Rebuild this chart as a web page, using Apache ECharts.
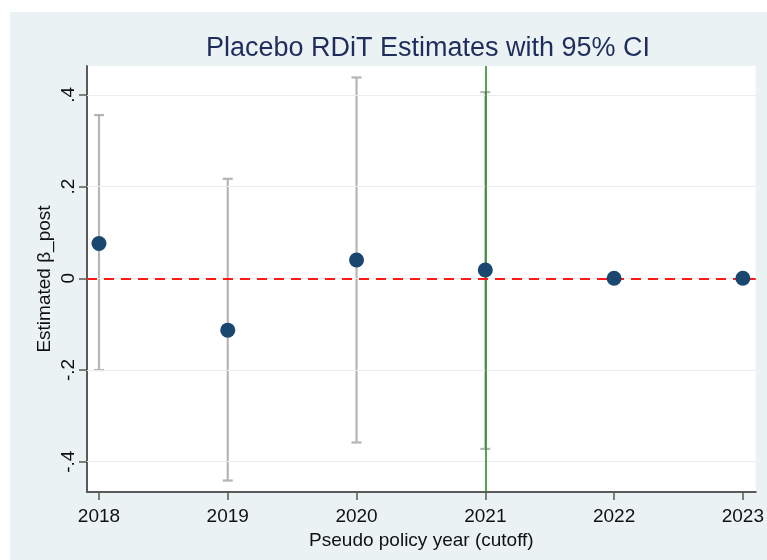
<!DOCTYPE html>
<html>
<head>
<meta charset="utf-8">
<title>Placebo RDiT Estimates</title>
<script src="https://cdn.jsdelivr.net/npm/echarts@6/dist/echarts.min.js"></script>
<style>
  html, body { margin: 0; padding: 0; background: #ffffff; }
  #chart { width: 767px; height: 560px; }
</style>
</head>
<body>
<div id="chart"></div>
<script>
// Pseudo cutoff years and the placebo estimates with their 95% intervals
const years = [2018, 2019, 2020, 2021, 2022, 2023];
const estimates = [0.076, -0.113, 0.040, 0.018, 0.0, 0.0];
const ciLower = [-0.200, -0.441, -0.358, -0.372, null, null];
const ciUpper = [0.356, 0.217, 0.438, 0.406, null, null];
const yTicks = [-0.4, -0.2, 0, 0.2, 0.4];
const actualPolicyYear = 2021;

const FONT = 'Liberation Sans, Arial, sans-serif';

function fmtTick(v) {
  if (Math.abs(v) < 1e-9) return '0';
  return String(Math.round(v * 10) / 10).replace(/^(-?)0\./, '$1.');
}

const points = years.map((y, i) => [y, estimates[i]]);
const bars = years
  .map((y, i) => [y, ciLower[i], ciUpper[i]])
  .filter(d => d[1] !== null && d[2] !== null);

const chart = echarts.init(document.getElementById('chart'), null, { renderer: 'canvas' });

chart.setOption({
  animation: false,
  backgroundColor: '#ffffff',
  graphic: [{
    type: 'rect',
    left: 10, top: 12,
    shape: { width: 757, height: 548 },
    style: { fill: '#eaf2f3' },
    z: -10, silent: true
  }],
  title: {
    text: 'Placebo RDiT Estimates with 95% CI',
    left: 423, top: 30, textAlign: 'center',
    textStyle: { fontFamily: FONT, fontSize: 27, fontWeight: 'normal', color: '#1f2d5c' }
  },
  grid: {
    left: 87, top: 66, right: 11, bottom: 68,
    show: true, backgroundColor: '#ffffff', borderWidth: 0
  },
  xAxis: {
    type: 'value',
    min: 2017.907, max: 2023.10,
    name: 'Pseudo policy year (cutoff)',
    nameLocation: 'middle', nameGap: 36,
    nameTextStyle: { fontFamily: FONT, fontSize: 19, color: '#111111' },
    axisLine: { show: true, onZero: false, lineStyle: { color: '#5a5a5a', width: 2 } },
    axisTick: { show: true, length: 8, customValues: years, lineStyle: { color: '#5a5a5a', width: 1.5 } },
    axisLabel: { customValues: years, margin: 15, fontFamily: FONT, fontSize: 19, color: '#111111', formatter: v => String(v) },
    splitLine: { show: false }
  },
  yAxis: {
    type: 'value',
    min: -0.466, max: 0.463,
    name: 'Estimated β_post',
    nameLocation: 'middle', nameGap: 33, nameRotate: 90,
    nameMoveOverlap: false,
    nameTextStyle: { fontFamily: FONT, fontSize: 19, color: '#111111' },
    axisLine: { show: true, onZero: false, lineStyle: { color: '#5a5a5a', width: 2 } },
    axisTick: { show: true, length: 8, customValues: yTicks, lineStyle: { color: '#5a5a5a', width: 1.5 } },
    axisLabel: { customValues: yTicks, rotate: 90, margin: 9, fontFamily: FONT, fontSize: 19, color: '#111111', formatter: fmtTick },
    splitLine: { show: false }
  },
  series: [
    {
      // horizontal grid lines at the labelled ticks
      type: 'line', data: [], silent: true, z: 1,
      markLine: {
        silent: true, symbol: 'none', label: { show: false },
        lineStyle: { color: '#e6eef0', width: 1.2, type: 'solid' },
        data: yTicks.map(v => ({ yAxis: v }))
      }
    },
    {
      // actual policy year
      type: 'line', data: [], silent: true, z: 2,
      markLine: {
        silent: true, symbol: 'none', label: { show: false },
        lineStyle: { color: '#1a861a', width: 1.5, type: 'solid' },
        data: [{ xAxis: actualPolicyYear }]
      }
    },
    {
      // 95% confidence intervals with caps
      type: 'custom', z: 3, silent: true,
      data: bars,
      renderItem: function (params, api) {
        const x = api.value(0);
        const lo = api.coord([x, api.value(1)]);
        const hi = api.coord([x, api.value(2)]);
        const cap = 5;
        const style = { stroke: '#b5b5b5', lineWidth: 2.2 };
        return {
          type: 'group',
          children: [
            { type: 'line', shape: { x1: lo[0], y1: lo[1], x2: hi[0], y2: hi[1] }, style: style },
            { type: 'line', shape: { x1: lo[0] - cap, y1: lo[1], x2: lo[0] + cap, y2: lo[1] }, style: style },
            { type: 'line', shape: { x1: hi[0] - cap, y1: hi[1], x2: hi[0] + cap, y2: hi[1] }, style: style }
          ]
        };
      }
    },
    {
      // zero reference
      type: 'line', data: [], silent: true, z: 4,
      markLine: {
        silent: true, symbol: 'none', label: { show: false },
        lineStyle: { color: '#ff1a1a', width: 1.8, type: [10, 7] },
        data: [{ yAxis: 0 }]
      }
    },
    {
      type: 'scatter', z: 5,
      data: points,
      symbol: 'circle', symbolSize: 15,
      itemStyle: { color: '#1a476f', opacity: 1 }
    }
  ]
});
</script>
</body>
</html>
